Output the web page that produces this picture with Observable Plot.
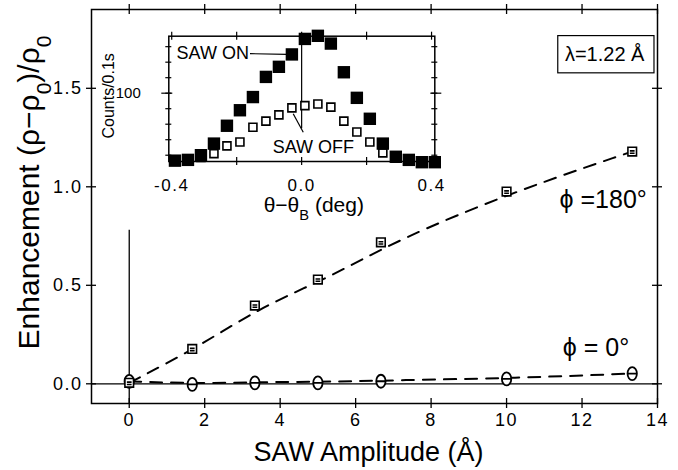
<!DOCTYPE html>
<html><head><meta charset="utf-8">
<script src="https://cdn.jsdelivr.net/npm/d3@7"></script>
<script src="https://cdn.jsdelivr.net/npm/@observablehq/plot@0.6"></script>
<style>
body{margin:0;background:#fff}
#wrap{position:relative;width:678px;height:470px}
#inset{position:absolute;left:100px;top:25px}
</style></head><body><div id="wrap"><div id="main"></div><div id="inset"></div></div>
<script>
// ---- main chart data ----
const amplitude = [0, 1.67, 3.33, 5, 6.67, 10, 13.33];
const enh180 = [0.005, 0.177, 0.397, 0.529, 0.718, 0.976, 1.179];
const enh0 = [0.012, -0.003, 0.005, 0.005, 0.013, 0.025, 0.052];
const xTicks = [0, 2, 4, 6, 8, 10, 12, 14];
const yTicks = [0, 0.5, 1.0, 1.5];

// ---- inset data ----
const theta = [-0.39,-0.35,-0.31,-0.27,-0.23,-0.19,-0.15,-0.11,-0.07,-0.03,0.01,0.05,0.09,0.13,0.17,0.21,0.25,0.29,0.33,0.37,0.41];
const countsOn = [13,14,20,35,58,78,95,121,134,150,170,174,164,127,94,67,35,18,14,11,11];
const countsOff = [13,14,17,22,32,37,56,64,72,81,84,86,82,64,50,37,23,16,14,12,12];
const thetaTicks = [-0.4, -0.2, 0, 0.2, 0.4];
const thetaTickLabels = [-0.4, 0, 0.4];
const countTicks = [20, 40, 60, 80, 100, 120, 140, 160];
const countTickLabels = [100];

const FONT = "Liberation Sans, Arial, Helvetica, sans-serif";

const boxSymbol = {draw(ctx, size) {
  const s = Math.sqrt(size / Math.PI);
  ctx.moveTo(-s, -s); ctx.lineTo(s, -s); ctx.lineTo(s, s); ctx.lineTo(-s, s); ctx.closePath();
  ctx.moveTo(-s * 0.55, -s * 0.15); ctx.lineTo(s * 0.55, -s * 0.15);
  ctx.moveTo(-s * 0.55, s * 0.4); ctx.lineTo(s * 0.55, s * 0.4);
}};
const sqSymbol = {draw(ctx, size) {
  const s = Math.sqrt(size / Math.PI);
  ctx.moveTo(-s, -s); ctx.lineTo(s, -s); ctx.lineTo(s, s); ctx.lineTo(-s, s); ctx.closePath();
}};
const thetaSymbol = {draw(ctx, size) {
  const r = Math.sqrt(size / Math.PI), rx = r * 0.72, ry = r, k = 0.5523;
  ctx.moveTo(0, -ry);
  ctx.bezierCurveTo(k * rx, -ry, rx, -k * ry, rx, 0);
  ctx.bezierCurveTo(rx, k * ry, k * rx, ry, 0, ry);
  ctx.bezierCurveTo(-k * rx, ry, -rx, k * ry, -rx, 0);
  ctx.bezierCurveTo(-rx, -k * ry, -k * rx, -ry, 0, -ry);
  ctx.closePath();
  ctx.moveTo(-rx, 0); ctx.lineTo(rx, 0);
}};

const W = 678, H = 470, mL = 91, mR = 21, mT = 9, mB = 67;
const iw = W - mL - mR, ih = H - mT - mB;
const d180 = amplitude.map((x, i) => ({x, y: enh180[i]}));
const d0 = amplitude.map((x, i) => ({x, y: enh0[i]}));

const main = Plot.plot({
  width: W, height: H, marginLeft: mL, marginRight: mR, marginTop: mT, marginBottom: mB,
  style: {fontFamily: FONT, background: "white", color: "black", overflow: "visible"},
  x: {domain: [-1, 14]},
  y: {domain: [-0.1, 1.9]},
  marks: [
    Plot.ruleY([0], {stroke: "black", strokeWidth: 1.3}),
    Plot.ruleX([0], {y1: -0.1, y2: 0.78, stroke: "black", strokeWidth: 1.3}),
    Plot.line(d180, {x: "x", y: "y", curve: "bundle", tension: 0.8, stroke: "black", strokeWidth: 2, strokeDasharray: "12,9"}),
    Plot.line(d0, {x: "x", y: "y", curve: "bundle", tension: 0.8, stroke: "black", strokeWidth: 2, strokeDasharray: "12,9"}),
    Plot.dot(d0, {x: "x", y: "y", symbol: thetaSymbol, r: 6.5, stroke: "black", strokeWidth: 1.8, fill: "white"}),
    Plot.dot(d180, {x: "x", y: "y", symbol: boxSymbol, r: 4.3, stroke: "black", strokeWidth: 1.6, fill: "white"}),
    Plot.frame({stroke: "black", strokeWidth: 1.5}),
    Plot.ruleX(xTicks, {x: d => d, insetTop: ih - 5, insetBottom: -5, stroke: "black", strokeWidth: 1.3}),
    Plot.ruleX(xTicks, {x: d => d, insetTop: -5, insetBottom: ih - 5, stroke: "black", strokeWidth: 1.3}),
    Plot.ruleY(yTicks, {y: d => d, insetLeft: -5, insetRight: iw - 5, stroke: "black", strokeWidth: 1.3}),
    Plot.ruleY(yTicks, {y: d => d, insetLeft: iw - 5, insetRight: -5, stroke: "black", strokeWidth: 1.3}),
    Plot.axisX(xTicks, {tickSize: 0, tickPadding: 10, fontSize: 18, label: null, tickFormat: d => String(d)}),
    Plot.axisY(yTicks, {tickSize: 0, tickPadding: 9, fontSize: 18, label: null, tickFormat: d => d.toFixed(1)}),
    Plot.text(["SAW Amplitude (Å)"], {frameAnchor: "bottom", textAnchor: "middle", lineAnchor: "middle", dx: -6, dy: 49, fontSize: 27}),
    Plot.text(["Enhancement (ρ−ρ0)/ρ0"], {frameAnchor: "left", textAnchor: "middle", lineAnchor: "middle", rotate: -90, dx: -62, dy: -14, fontSize: 30}),
    Plot.rect([0], {x1: 11.37, x2: 13.92, y1: 1.576, y2: 1.765, fill: "none", stroke: "black", strokeWidth: 1.2}),
    Plot.text(["λ=1.22 Å"], {x: 12.6, y: 1.669, fontSize: 20}),
    Plot.text(["ϕ =180°"], {x: 12.56, y: 0.934, fontSize: 25}),
    Plot.text(["ϕ = 0°"], {x: 12.37, y: 0.184, fontSize: 25})
  ]
});
document.getElementById("main").append(main);

// ---- inset ----
const IW = 345, IH = 200, imL = 68.3, imR = 10.7, imT = 10.7, imB = 64;
const iiw = IW - imL - imR, iih = IH - imT - imB;
const onData = theta.map((x, i) => ({x, y: countsOn[i]}));
const offData = theta.map((x, i) => ({x, y: countsOff[i]}));
const inset = Plot.plot({
  width: IW, height: IH, marginLeft: imL, marginRight: imR, marginTop: imT, marginBottom: imB,
  style: {fontFamily: FONT, background: "transparent", color: "black", overflow: "visible"},
  x: {domain: [-0.409, 0.41]},
  y: {domain: [11.9, 173.5]},
  marks: [
    Plot.ruleX([0], {y1: 54, y2: 173.5, stroke: "black", strokeWidth: 1.2}),
    Plot.link([0], {x1: -0.159, y1: 151, x2: -0.045, y2: 150, stroke: "black", strokeWidth: 1.2}),
    Plot.link([0], {x1: -0.026, y1: 73.4, x2: 0.005, y2: 49.7, stroke: "black", strokeWidth: 1.2}),
    Plot.dot(offData, {x: "x", y: "y", symbol: sqSymbol, r: 4, stroke: "black", strokeWidth: 1.6, fill: "white"}),
    Plot.dot(onData, {x: "x", y: "y", symbol: sqSymbol, r: 6.2, fill: "black", stroke: "none"}),
    Plot.frame({stroke: "black", strokeWidth: 1.5}),
    Plot.ruleX(thetaTicks, {x: d => d, insetTop: iih - 4, insetBottom: -4, stroke: "black", strokeWidth: 1.2}),
    Plot.ruleX(thetaTicks, {x: d => d, insetTop: -4, insetBottom: iih - 4, stroke: "black", strokeWidth: 1.2}),
    Plot.ruleY(countTicks, {y: d => d, insetLeft: -3, insetRight: iiw - 3, stroke: "black", strokeWidth: 1.2}),
    Plot.ruleY(countTicks, {y: d => d, insetLeft: iiw - 3, insetRight: -3, stroke: "black", strokeWidth: 1.2}),
    Plot.ruleY(countTickLabels, {y: d => d, insetLeft: -7, insetRight: iiw - 4, stroke: "black", strokeWidth: 1.2}),
    Plot.ruleY(countTickLabels, {y: d => d, insetLeft: iiw - 4, insetRight: -7, stroke: "black", strokeWidth: 1.2}),
    Plot.axisX(thetaTickLabels, {tickSize: 0, tickPadding: 17, fontSize: 17, label: null,
      tickFormat: d => (d < 0 ? "-" : "") + Math.abs(d).toFixed(1)}),
    Plot.axisY(countTickLabels, {tickSize: 0, tickPadding: 28, fontSize: 15, label: null, tickFormat: d => String(d)}),
    Plot.text(["Counts/0.1s"], {frameAnchor: "left", textAnchor: "middle", lineAnchor: "middle", rotate: -90, dx: -60, dy: -3, fontSize: 16}),
    Plot.text(["θ−θB (deg)"], {frameAnchor: "bottom", textAnchor: "middle", lineAnchor: "middle", dx: 12, dy: 44, fontSize: 21}),
    Plot.text(["SAW ON"], {x: -0.385, y: 151, textAnchor: "start", fontSize: 18}),
    Plot.text(["SAW OFF"], {x: -0.089, y: 30.3, textAnchor: "start", fontSize: 18})
  ]
});
document.getElementById("inset").append(inset);

// subscripts and digit spacing
function subscriptify(svg, plain, parts) {
  d3.select(svg).selectAll("text").each(function() {
    if (this.textContent === plain) {
      const t = d3.select(this);
      t.selectAll("*").remove();
      t.text(null);
      for (const [s, sub] of parts) {
        const ts = t.append("tspan").text(s);
        if (sub) ts.attr("baseline-shift", "sub").attr("font-size", "0.7em");
      }
    }
  });
}
subscriptify(main, "Enhancement (ρ−ρ0)/ρ0", [["Enhancement (ρ−ρ", 0], ["0", 1], [")/ρ", 0], ["0", 1]]);
subscriptify(inset, "θ−θB (deg)", [["θ−θ", 0], ["B", 1], [" (deg)", 0]]);
d3.select(main).selectAll('g[aria-label="x-axis tick label"] text, g[aria-label="y-axis tick label"] text')
  .attr("letter-spacing", "1.5px");
d3.select(inset).selectAll('g[aria-label="x-axis tick label"] text').attr("letter-spacing", "1.5px");
</script></body></html>
